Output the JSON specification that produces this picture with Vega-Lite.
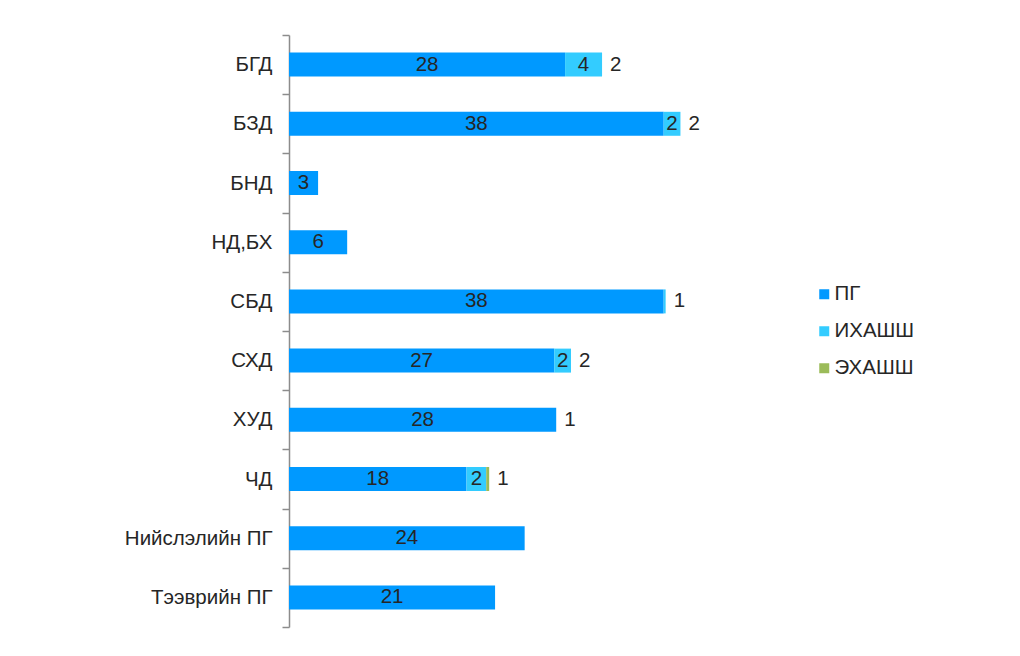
{
  "$schema": "https://vega.github.io/schema/vega-lite/v6.json",
  "autosize": "none",
  "width": 493,
  "height": 592,
  "padding": {"left": 289, "top": 35, "right": 238, "bottom": 29},
  "background": "white",
  "config": {
    "view": {"stroke": null},
    "font": "Liberation Sans"
  },
  "data": {
    "values": [
      {"cat": "БГД", "series": "ПГ", "rank": 1, "value": 28, "inner": "28", "outer": ""},
      {"cat": "БГД", "series": "ИХАШШ", "rank": 2, "value": 3.75, "inner": "4", "outer": ""},
      {"cat": "БГД", "series": "ЭХАШШ", "rank": 3, "value": 0, "inner": "", "outer": "2"},
      {"cat": "БЗД", "series": "ПГ", "rank": 1, "value": 38, "inner": "38", "outer": ""},
      {"cat": "БЗД", "series": "ИХАШШ", "rank": 2, "value": 1.7, "inner": "2", "outer": ""},
      {"cat": "БЗД", "series": "ЭХАШШ", "rank": 3, "value": 0, "inner": "", "outer": "2"},
      {"cat": "БНД", "series": "ПГ", "rank": 1, "value": 2.95, "inner": "3", "outer": ""},
      {"cat": "НД,БХ", "series": "ПГ", "rank": 1, "value": 5.9, "inner": "6", "outer": ""},
      {"cat": "СБД", "series": "ПГ", "rank": 1, "value": 38, "inner": "38", "outer": ""},
      {"cat": "СБД", "series": "ИХАШШ", "rank": 2, "value": 0.2, "inner": "", "outer": ""},
      {"cat": "СБД", "series": "ЭХАШШ", "rank": 3, "value": 0, "inner": "", "outer": "1"},
      {"cat": "СХД", "series": "ПГ", "rank": 1, "value": 26.9, "inner": "27", "outer": ""},
      {"cat": "СХД", "series": "ИХАШШ", "rank": 2, "value": 1.7, "inner": "2", "outer": ""},
      {"cat": "СХД", "series": "ЭХАШШ", "rank": 3, "value": 0, "inner": "", "outer": "2"},
      {"cat": "ХУД", "series": "ПГ", "rank": 1, "value": 27.1, "inner": "28", "outer": ""},
      {"cat": "ХУД", "series": "ЭХАШШ", "rank": 3, "value": 0, "inner": "", "outer": "1"},
      {"cat": "ЧД", "series": "ПГ", "rank": 1, "value": 18, "inner": "18", "outer": ""},
      {"cat": "ЧД", "series": "ИХАШШ", "rank": 2, "value": 2, "inner": "2", "outer": ""},
      {"cat": "ЧД", "series": "ЭХАШШ", "rank": 3, "value": 0.3, "inner": "", "outer": "1"},
      {"cat": "Нийслэлийн ПГ", "series": "ПГ", "rank": 1, "value": 23.9, "inner": "24", "outer": ""},
      {"cat": "Тээврийн ПГ", "series": "ПГ", "rank": 1, "value": 20.9, "inner": "21", "outer": ""}
    ]
  },
  "encoding": {
    "y": {
      "field": "cat",
      "type": "nominal",
      "sort": null,
      "title": null,
      "scale": {"paddingInner": 0, "paddingOuter": 0},
      "axis": {
        "labelFontSize": 20.5,
        "labelColor": "#262626",
        "labelPadding": 10,
        "tickBand": "extent",
        "tickSize": 7,
        "tickColor": "#8c8c8c",
        "domainColor": "#8c8c8c",
        "tickWidth": 1.5,
        "domainWidth": 1.5
      }
    },
    "x": {
      "field": "value",
      "type": "quantitative",
      "stack": "zero",
      "scale": {"domain": [0, 50], "nice": false},
      "axis": null
    },
    "order": {"field": "rank", "type": "quantitative"}
  },
  "layer": [
    {
      "mark": {"type": "bar", "height": {"band": 0.405}},
      "encoding": {
        "color": {
          "field": "series",
          "type": "nominal",
          "sort": ["ПГ", "ИХАШШ", "ЭХАШШ"],
          "scale": {"domain": ["ПГ", "ИХАШШ", "ЭХАШШ"], "range": ["#0099FF", "#33CCFF", "#9BBB59"]},
          "legend": {
            "title": null,
            "orient": "none",
            "legendX": 525,
            "legendY": 249,
            "symbolType": "square",
            "symbolSize": 100,
            "symbolStrokeWidth": 0,
            "labelFontSize": 20.5,
            "labelColor": "#262626",
            "labelOffset": 0,
            "rowPadding": 16
          }
        }
      }
    },
    {
      "mark": {"type": "text", "fontSize": 20.5, "color": "#262626", "baseline": "middle", "align": "center"},
      "encoding": {
        "x": {"field": "value", "type": "quantitative", "stack": "zero", "bandPosition": 0.5},
        "text": {"field": "inner"}
      }
    },
    {
      "mark": {"type": "text", "fontSize": 20.5, "color": "#262626", "baseline": "middle", "align": "left", "dx": 8},
      "encoding": {
        "text": {"field": "outer"}
      }
    }
  ]
}
